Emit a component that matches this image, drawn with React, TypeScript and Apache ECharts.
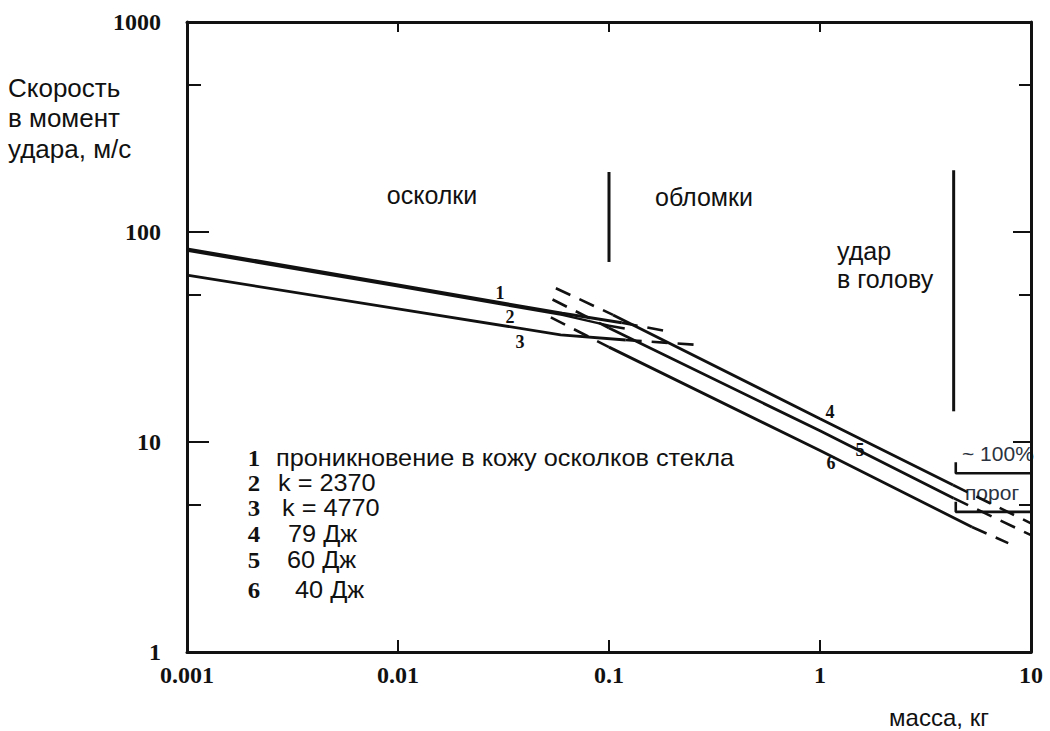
import React, { useEffect, useRef } from "react";
import * as echarts from "echarts";

// ---- data (mass in kg, impact speed in m/s) ----
const line1 = [[0.001, 83], [0.01, 56], [0.06, 41], [0.115, 37]];
const line1Ext = [[0.115, 37], [0.19, 33.6]];
const line2 = [[0.001, 81.5], [0.01, 55], [0.06, 40.3], [0.1, 35.8]];
const line2Ext = [[0.1, 35.8], [0.126, 34.3]];
const line3 = [[0.001, 62.4], [0.01, 43], [0.059, 32.4], [0.12, 30.6]];
const line3Ext = [[0.12, 30.6], [0.264, 29.0]];
const line4 = [[0.1045, 40.3], [1, 12.9], [4.27, 6.24]];
const line4ExtLeft = [[0.056, 54], [0.1045, 40.3]];
const line4ExtRight = [[4.27, 6.24], [10, 4.1]];
const line5 = [[0.1, 34.9], [1, 11.3], [4.3, 5.4]];
const line5ExtLeft = [[0.054, 47.7], [0.1, 34.9]];
const line5ExtRight = [[4.3, 5.4], [10, 3.6]];
const line6 = [[0.1, 28.3], [1, 9.1], [5.25, 3.94]];
const line6ExtLeft = [[0.053, 39.2], [0.1, 28.3]];
const line6ExtRight = [[5.25, 3.94], [7.8, 3.3]];

const sepFragments = [[0.1, 193], [0.1, 72]];
const sepHead = [[4.3, 197], [4.3, 14]];
const bracketFull = [[4.4, 8.0], [4.4, 7.1], [10, 7.1]];
const bracketThreshold = [[4.4, 5.2], [4.4, 4.65], [10, 4.65]];

const minorTicksY = [5, 50, 500];

const legendNums = ["1", "2", "3", "4", "5", "6"];
const legendTexts = [
  "проникновение в кожу осколков стекла",
  "k = 2370",
  "k = 4770",
  "79 Дж",
  "60 Дж",
  "40 Дж",
];
const yTitle = ["Скорость", "в момент", "удара, м/с"];

const INK = "#111";
const SANS = '"Liberation Sans", Arial, sans-serif';
const SERIF = '"Liberation Serif", "Times New Roman", serif';

function txt(x: number, y: number, text: string, font: string, align = "left", fill = INK, scaleX = 1) {
  return {
    type: "text",
    x,
    y,
    scaleX,
    silent: true,
    style: {
      text,
      font,
      fill,
      align,
      verticalAlign: "middle",
      textAlign: align,
      textVerticalAlign: "middle",
    },
  };
}

function solid(data: number[][], width = 2.8) {
  return {
    type: "line",
    data,
    symbol: "none",
    silent: true,
    lineStyle: { color: INK, width, type: "solid" },
  };
}
function dashed(data: number[][]) {
  return {
    type: "line",
    data,
    symbol: "none",
    silent: true,
    lineStyle: { color: INK, width: 2.6, type: [16, 10] },
  };
}

export default function App() {
  const ref = useRef<HTMLDivElement>(null);
  useEffect(() => {
    if (!ref.current) return;
    const chart = echarts.init(ref.current, null, { renderer: "svg" });
    const axisLine = { show: true, lineStyle: { color: INK, width: 3 } };
    const tickStyle = { color: INK, width: 2 };
    const labelStyle = {
      color: INK,
      fontFamily: SERIF,
      fontWeight: "bold",
      fontSize: 24,
      formatter: (v: number) => String(Number(v.toPrecision(6))),
    };
    const legendRowsY = [458, 483, 508, 534, 560, 590];
    const legendTextX = [276, 278, 282, 288, 287, 295];
    const graphic: any[] = [];
    yTitle.forEach((t, i) => graphic.push(txt(8, [88, 118, 149][i], t, `26px ${SANS}`)));
    legendNums.forEach((n, i) => {
      graphic.push(txt(254, legendRowsY[i], n, `bold 23px ${SERIF}`, "center", INK, 1.08));
      graphic.push(txt(legendTextX[i], legendRowsY[i], legendTexts[i], `23px ${SANS}`, "left", INK, 1.1));
    });
    graphic.push(txt(432, 195, "осколки", `25px ${SANS}`, "center"));
    graphic.push(txt(655, 197, "обломки", `25px ${SANS}`));
    graphic.push(txt(837, 251, "удар", `25px ${SANS}`));
    graphic.push(txt(837, 279, "в голову", `25px ${SANS}`));
    graphic.push(txt(939, 717, "масса, кг", `24px ${SANS}`, "center"));
    graphic.push(txt(962, 453, "~ 100%", `21px ${SANS}`, "left", "#2b3340"));
    graphic.push(txt(965, 492, "порог", `21px ${SANS}`, "left", "#2b3340"));
    const curveLabels: [number, number, string][] = [
      [500, 293, "1"],
      [510, 317, "2"],
      [520, 342, "3"],
      [830, 412, "4"],
      [860, 450, "5"],
      [831, 463, "6"],
    ];
    curveLabels.forEach(([x, y, t]) => graphic.push(txt(x, y, t, `bold 18px ${SERIF}`, "center")));

    const logX = { type: "log", logBase: 10, min: 0.001, max: 10 };
    const logY = { type: "log", logBase: 10, min: 1, max: 1000 };

    chart.setOption({
      animation: false,
      backgroundColor: "#fff",
      grid: { left: 187, right: 19, top: 22, bottom: 79 },
      xAxis: [
        {
          ...logX,
          position: "bottom",
          axisLine,
          axisTick: { show: true, inside: true, length: 12, lineStyle: tickStyle },
          axisLabel: { ...labelStyle, margin: 11 },
          splitLine: { show: false },
          minorTick: { show: false },
        },
        {
          ...logX,
          position: "top",
          axisLine,
          axisTick: { show: true, inside: true, length: 10, lineStyle: tickStyle },
          axisLabel: { show: false },
          splitLine: { show: false },
        },
      ],
      yAxis: [
        {
          ...logY,
          position: "left",
          axisLine,
          axisTick: { show: true, inside: true, length: 22, lineStyle: tickStyle },
          axisLabel: { ...labelStyle, margin: 26 },
          splitLine: { show: false },
        },
        {
          ...logY,
          position: "left",
          axisLine: { show: false },
          axisTick: { show: true, inside: true, length: 14, lineStyle: tickStyle, customValues: minorTicksY },
          axisLabel: { show: false },
          splitLine: { show: false },
        },
        {
          ...logY,
          position: "right",
          axisLine,
          axisTick: { show: true, inside: true, length: 18, lineStyle: tickStyle },
          axisLabel: { show: false },
          splitLine: { show: false },
        },
        {
          ...logY,
          position: "right",
          axisLine: { show: false },
          axisTick: { show: true, inside: true, length: 12, lineStyle: tickStyle, customValues: minorTicksY },
          axisLabel: { show: false },
          splitLine: { show: false },
        },
      ],
      series: [
        solid(line1, 3),
        solid(line2, 2.2),
        solid(line3),
        solid(line4),
        solid(line5),
        solid(line6),
        dashed(line1Ext),
        dashed(line2Ext),
        dashed(line3Ext),
        dashed(line4ExtLeft),
        dashed(line5ExtLeft),
        dashed(line6ExtLeft),
        dashed(line4ExtRight),
        dashed(line5ExtRight),
        dashed(line6ExtRight),
        solid(sepFragments, 3),
        solid(sepHead, 3),
        solid(bracketFull, 2.6),
        solid(bracketThreshold, 2.6),
      ],
      graphic,
    });
    return () => chart.dispose();
  }, []);
  return (
    <div
      ref={ref}
      style={{ position: "fixed", left: 0, top: 0, width: 1050, height: 731, background: "#fff" }}
    />
  );
}
